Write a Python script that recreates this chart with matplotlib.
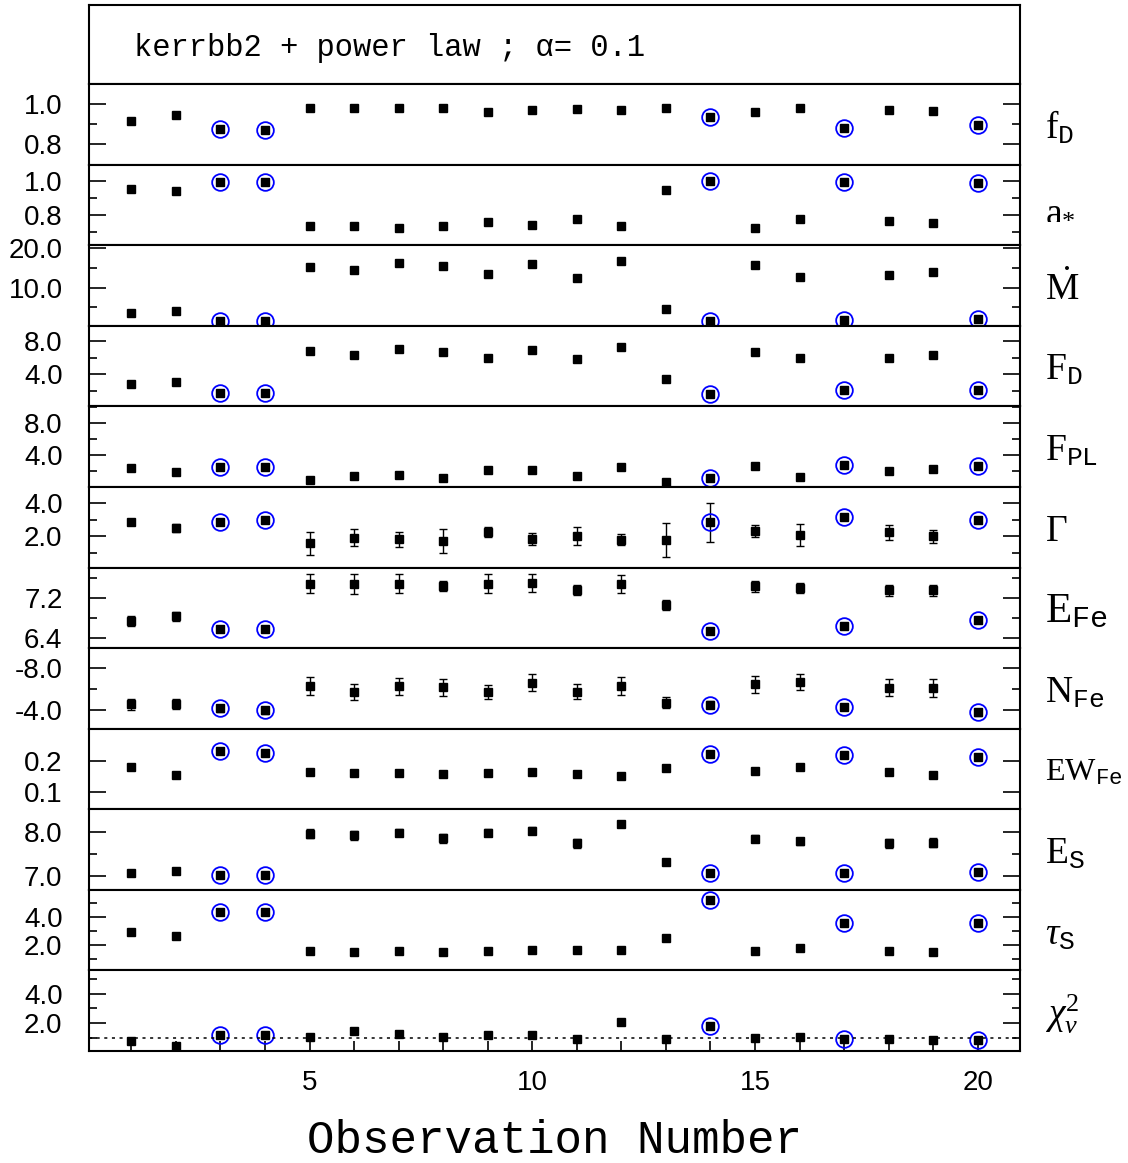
import matplotlib
matplotlib.use('Agg')
import matplotlib.pyplot as plt
from matplotlib.ticker import MultipleLocator, FixedLocator, FormatStrFormatter, NullLocator

plt.rcParams['font.family'] = ['Liberation Sans', 'DejaVu Sans']
plt.rcParams['mathtext.fontset'] = 'custom'
plt.rcParams['mathtext.rm'] = 'Liberation Serif'
plt.rcParams['mathtext.it'] = 'Liberation Serif:italic'
plt.rcParams['mathtext.tt'] = 'Liberation Mono'
plt.rcParams['mathtext.bf'] = 'Liberation Serif:bold'

obs = list(range(1, 21))
circled = [3, 4, 14, 17, 20]

f_d = [0.918, 0.946, 0.875, 0.874, 0.982, 0.979, 0.979, 0.982, 0.962, 0.969,
       0.975, 0.969, 0.982, 0.936, 0.962, 0.979, 0.882, 0.969, 0.964, 0.895]
a_spin = [0.954, 0.940, 0.996, 0.996, 0.734, 0.734, 0.724, 0.732, 0.756, 0.738,
          0.774, 0.732, 0.946, 1.000, 0.720, 0.774, 0.996, 0.762, 0.750, 0.992]
a_err = [0.006] * 20
mdot = [3.47, 4.15, 1.53, 1.53, 15.34, 14.58, 16.19, 15.51, 13.39, 15.93,
        12.37, 16.69, 4.49, 1.61, 15.68, 12.63, 1.86, 13.22, 13.90, 2.12]
mdot_err = [0.25] * 20
flux_d = [2.82, 3.06, 1.76, 1.76, 6.86, 6.37, 7.02, 6.73, 6.00, 6.98,
          5.88, 7.35, 3.47, 1.67, 6.69, 5.96, 2.12, 6.00, 6.33, 2.12]
flux_pl = [2.43, 1.86, 2.52, 2.56, 0.95, 1.44, 1.57, 1.11, 2.19, 2.10,
           1.44, 2.47, 0.66, 1.11, 2.68, 1.24, 2.80, 1.98, 2.31, 2.60]
gamma = [2.86, 2.51, 2.90, 3.00, 1.59, 1.92, 1.82, 1.71, 2.27, 1.84,
         2.02, 1.80, 1.78, 2.86, 2.31, 2.08, 3.20, 2.24, 2.02, 2.98]
gamma_err = [0.12, 0.27, 0.10, 0.10, 0.71, 0.51, 0.46, 0.73, 0.33, 0.37,
             0.53, 0.33, 1.02, 1.19, 0.36, 0.67, 0.12, 0.44, 0.39, 0.12]
e_fe = [6.737, 6.830, 6.580, 6.585, 7.478, 7.478, 7.478, 7.438, 7.478, 7.484,
        7.352, 7.478, 7.048, 6.545, 7.431, 7.398, 6.645, 7.345, 7.345, 6.757]
e_fe_err = [0.10, 0.09, 0.06, 0.06, 0.185, 0.20, 0.19, 0.10, 0.19, 0.18,
            0.10, 0.18, 0.10, 0.05, 0.11, 0.10, 0.05, 0.11, 0.11, 0.05]
n_fe = [-4.52, -4.55, -4.13, -3.94, -6.26, -5.71, -6.23, -6.13, -5.68, -6.58,
        -5.74, -6.29, -4.65, -4.48, -6.42, -6.65, -4.26, -6.10, -6.10, -3.74]
n_fe_err = [0.50, 0.50, 0.30, 0.30, 0.84, 0.77, 0.84, 0.84, 0.68, 0.82,
            0.74, 0.87, 0.53, 0.35, 0.85, 0.77, 0.30, 0.80, 0.88, 0.30]
ew_fe = [0.179, 0.156, 0.229, 0.223, 0.164, 0.160, 0.160, 0.157, 0.160, 0.163,
         0.157, 0.151, 0.176, 0.221, 0.166, 0.179, 0.216, 0.163, 0.155, 0.212]
e_s = [7.075, 7.120, 7.030, 7.030, 7.955, 7.917, 7.977, 7.857, 7.977, 8.023,
       7.744, 8.173, 7.323, 7.075, 7.842, 7.782, 7.075, 7.744, 7.752, 7.090]
e_s_err = [0.03, 0.03, 0.03, 0.03, 0.10, 0.10, 0.08, 0.10, 0.08, 0.07,
           0.10, 0.05, 0.06, 0.03, 0.08, 0.08, 0.03, 0.10, 0.10, 0.03]
tau_s = [2.93, 2.69, 4.38, 4.40, 1.60, 1.55, 1.57, 1.55, 1.57, 1.64,
         1.64, 1.64, 2.52, 5.21, 1.60, 1.79, 3.62, 1.57, 1.52, 3.62]
tau_err = [0.08] * 20
chi2 = [0.76, 0.43, 1.21, 1.17, 1.06, 1.44, 1.26, 1.03, 1.21, 1.21,
        0.88, 2.07, 0.88, 1.80, 0.97, 1.06, 0.88, 0.88, 0.81, 0.81]

# (values, errors, label, ylim, major, minor)
panels = [
    (f_d, None, r'$\mathrm{f}_{\mathtt{D}}$', (0.70, 1.10), 0.2, 0.1),
    (a_spin, a_err, r'$\mathrm{a}_{*}$', (0.62, 1.10), 0.2, 0.1),
    (mdot, mdot_err, r'$\dot{\mathrm{M}}$', (0.34, 20.76), 10, 5),
    (flux_d, None, r'$\mathrm{F}_{\mathtt{D}}$', (0.16, 9.88), 4, 2),
    (flux_pl, None, r'$\mathrm{F}_{\mathtt{PL}}$', (0.04, 10.06), 4, 2),
    (gamma, gamma_err, r'$\Gamma$', (0.12, 5.0), 2, 1),
    (e_fe, e_fe_err, r'$\mathrm{E}_{\mathtt{Fe}}$', (6.2, 7.8), 0.8, 0.4),
    (n_fe, n_fe_err, r'$\mathrm{N}_{\mathtt{Fe}}$', (-2.19, -9.9), 4, 2),
    (ew_fe, None, r'$\mathrm{EW}_{\mathtt{Fe}}$', (0.047, 0.30), None, None),
    (e_s, e_s_err, r'$\mathrm{E}_{\mathtt{S}}$', (6.7, 8.5), 1, 0.5),
    (tau_s, tau_err, r'$\tau_{\mathtt{S}}$', (0.21, 5.95), 2, 1),
    (chi2, None, r'$\chi^2_\nu$', (0.09, 5.57), 2, 1),
]
label_sizes = [27, 27, 27, 27, 27, 27, 31, 27, 23, 27, 27, 27]

W, H = 1128, 1163
fig = plt.figure(figsize=(W / 100, H / 100), dpi=100)
left = 89 / W
width = (1020 - 89) / W
top0 = 84
ph = (1051 - 84) / 12

# title box
tax = fig.add_axes([left, 1 - top0 / H, width, 79 / H])
tax.set_xticks([])
tax.set_yticks([])
for s in tax.spines.values():
    s.set_linewidth(1.5)
tax.text(0.048, 0.46, 'kerrbb2 + power law ; α= 0.1', transform=tax.transAxes,
         ha='left', va='center', fontsize=22, family=['Liberation Mono', 'DejaVu Sans Mono'])

for i, (vals, errs, lab, ylim, major, minor) in enumerate(panels):
    top = top0 + i * ph
    ax = fig.add_axes([left, 1 - (top + ph) / H, width, ph / H])
    if errs is None:
        ax.plot(obs, vals, 's', color='black', ms=6)
    else:
        ax.errorbar(obs, vals, yerr=errs, fmt='s', color='black', ms=6,
                    capsize=3, elinewidth=1, capthick=1)
    cx = [o for o in circled]
    cy = [vals[o - 1] for o in circled]
    ax.plot(cx, cy, 'o', mfc='none', mec='#0000ff', ms=12, mew=1.3)
    if i == 11:
        ax.axhline(1.0, color='black', ls=(0, (2, 3)), lw=1.1)
    ax.set_xlim(0.05, 20.95)
    ax.set_ylim(*ylim)
    if major is None:
        ax.yaxis.set_major_locator(FixedLocator([0.1, 0.2]))
        ax.yaxis.set_minor_locator(NullLocator())
    else:
        ax.yaxis.set_major_locator(MultipleLocator(major))
        ax.yaxis.set_minor_locator(MultipleLocator(minor))
    ax.yaxis.set_major_formatter(FormatStrFormatter('%.1f'))
    ax.tick_params(axis='y', which='both', direction='in', left=True, right=True,
                   labelsize=20, pad=19)
    ax.tick_params(axis='y', which='major', length=12, width=1.2)
    ax.tick_params(axis='y', which='minor', length=6, width=1.2)
    if i == 11:
        ax.xaxis.set_major_locator(FixedLocator([5, 10, 15, 20]))
        ax.xaxis.set_minor_locator(MultipleLocator(1))
        ax.tick_params(axis='x', which='both', direction='in', top=False,
                       bottom=True, length=7, width=1.2, labelsize=20, pad=14)
        ax.set_xlabel('Observation Number', fontsize=33, labelpad=16,
                      family=['Liberation Mono', 'DejaVu Sans Mono'])
    else:
        ax.set_xticks([])
    for s in ax.spines.values():
        s.set_linewidth(1.5)
    fig.text(1045 / W, 1 - (top + ph / 2 + 4) / H, lab, fontsize=label_sizes[i],
             ha='left', va='center')

plt.savefig('out.png', dpi=100)
